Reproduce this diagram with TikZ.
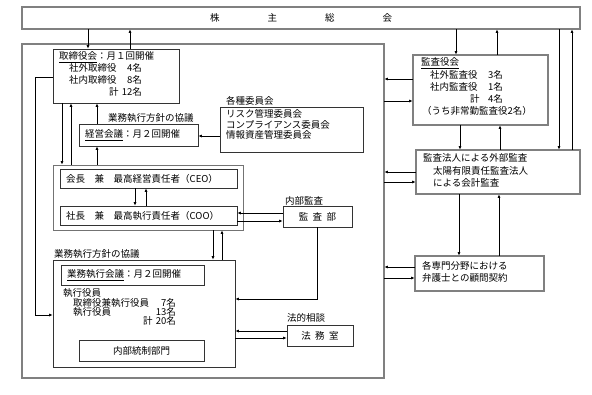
\documentclass[tikz,border=0pt]{standalone}
\usepackage{fontspec}
\setmainfont{Noto Sans CJK JP}
\usetikzlibrary{arrows.meta,fit}
\newcommand{\fs}{\fontsize{9.5}{11}\selectfont}
\begin{document}
\begin{tikzpicture}[x=1pt,y=-1pt,
  dbl/.style={draw=black!75, line width=0.7pt, double=black!50, double distance=1.2pt, inner sep=0pt},
  box/.style={draw=black!80, line width=0.6pt, inner sep=0pt},
  gbox/.style={draw=black!55, line width=0.7pt, inner sep=0pt},
  txt/.style={anchor=west, inner sep=0pt, font=\fs},
  num/.style={anchor=east, inner sep=0pt, font=\fs},
  ctr/.style={inner sep=0pt, font=\fs},
  arr/.style={-{Latex[length=3.5pt,width=3pt]}, line width=0.8pt}]
\fill[white] (0,0) rectangle (592,394);
\useasboundingbox (0,0) rectangle (592,394);

% boxes
\node[dbl, fit={(22,7)(580,29)}] (gm) {};
\node[ctr] (gmt) at (gm.center) {株\hspace{48pt}主\hspace{48pt}総\hspace{48pt}会};
\node[dbl, fit={(22,44)(384,378)}] (corp) {};
\node[box, fit={(53,49)(179,103)}] (board) {};
\node[box, fit={(79,124)(198,146)}] (mgmt) {};
\node[box, fit={(220,107)(363,152)}] (cmte) {};
\node[gbox, fit={(53,165)(243,230)}] (exec) {};
\node[box, fit={(60,169)(237,188)}] (ceo) {};
\node[box, fit={(60,206)(237,225)}] (coo) {};
\node[box, fit={(283,206)(352,227)}] (audit) {};
\node[box, fit={(53,260)(235,367)}] (ops) {};
\node[box, fit={(61,265)(204,285)}] (opsm) {};
\node[box, fit={(79,340)(204,361)}] (ic) {};
\node[box, fit={(287,325)(353,346)}] (legal) {};
\node[dbl, fit={(413,55)(548,125)}] (kansa) {};
\node[dbl, fit={(416,150)(580,194)}] (ext) {};
\node[dbl, fit={(415,256)(544,291)}] (law) {};

% texts
\node[txt] (bt1) at (59,57) {\underline{取締役会}：月１回開催};
\node[txt] (bt2) at (69,68) {社外取締役}; \node[num] (bn2) at (142,68) {4名};
\node[txt] (bt3) at (69,80) {社内取締役}; \node[num] (bn3) at (142,80) {8名};
\node[txt] (bt4) at (109,92) {計}; \node[num] (bn4) at (142,92) {12名};
\node[txt] (ml) at (108,118) {業務執行方針の協議};
\node[txt] (mt) at (85,135) {\underline{経営会議}：月２回開催};
\node[txt] (cl) at (226,101) {各種委員会};
\node[txt] (c1) at (226,114) {リスク管理委員会};
\node[txt] (c2) at (226,124.5) {コンプライアンス委員会};
\node[txt] (c3) at (226,135) {情報資産管理委員会};
\node[txt] (ceot) at (66,178.5) {会長　兼　最高経営責任者（CEO）};
\node[txt] (coot) at (66,215.5) {社長　兼　最高執行責任者（COO）};
\node[txt] (al) at (285,201) {内部監査};
\node[ctr] (at) at (audit.center) {監\hspace{4.5pt}査\hspace{4.5pt}部};
\node[txt] (ol) at (54,254) {業務執行方針の協議};
\node[txt] (omt) at (67,275) {\underline{業務執行会議}：月２回開催};
\node[txt] (o1) at (63,293) {執行役員};
\node[txt] (o2) at (73,303) {取締役兼執行役員}; \node[num] (on2) at (176,303) {7名};
\node[txt] (o3) at (73,312) {執行役員}; \node[num] (on3) at (176,312) {13名};
\node[txt] (o4) at (143,321) {計}; \node[num] (on4) at (176,321) {20名};
\node[ctr] (ict) at (ic.center) {内部統制部門};
\node[txt] (ll) at (287,318) {法的相談};
\node[ctr] (lt) at (legal.center) {法\hspace{4.5pt}務\hspace{4.5pt}室};
\node[txt] (k1) at (421,63) {\underline{監査役会}};
\node[txt] (k2) at (430,75) {社外監査役}; \node[num] (kn2) at (503,75) {3名};
\node[txt] (k3) at (430,87) {社内監査役}; \node[num] (kn3) at (503,87) {1名};
\node[txt] (k4) at (470,99) {計}; \node[num] (kn4) at (503,99) {4名};
\node[txt] (k5) at (422,111) {（うち非常勤監査役2名）};
\node[txt] (e1) at (423,158) {監査法人による外部監査};
\node[txt] (e2) at (433,171) {太陽有限責任監査法人};
\node[txt] (e3) at (433,183) {による会計監査};
\node[txt] (w1) at (422,266) {各専門分野における};
\node[txt] (w2) at (422,278) {弁護士との顧問契約};

% connectors
\draw[arr] (gm.south -| 88,0) -- (board.north -| 88,0);
\draw[arr] (board.north -| 130,0) -- (gm.south -| 130,0);
\draw[arr] (gm.south -| 456,0) -- (kansa.north -| 456,0);
\draw[arr] (kansa.north -| 497,0) -- (gm.south -| 497,0);
\draw[arr] (gm.south -| 559,0) -- (ext.north -| 559,0);
\draw[arr] (ext.north -| 572,0) -- (gm.south -| 572,0);
\draw[arr] (kansa.west |- 0,79) -- (corp.east |- 0,79);
\draw[arr] (corp.east |- 0,101) -- (kansa.west |- 0,101);
\draw[arr] (ext.west |- 0,172) -- (corp.east |- 0,172);
\draw[arr] (corp.east |- 0,182) -- (ext.west |- 0,182);
\draw[arr] (law.west |- 0,267) -- (corp.east |- 0,267);
\draw[arr] (corp.east |- 0,278) -- (law.west |- 0,278);
\draw[arr] (kansa.south -| 460,0) -- (ext.north -| 460,0);
\draw[arr] (ext.north -| 500,0) -- (kansa.south -| 500,0);
\draw[arr] (ext.south -| 459,0) -- (law.north -| 459,0);
\draw[arr] (law.north -| 499,0) -- (ext.south -| 499,0);
\draw[arr] (board.west |- 0,77) -- (35,77) -- (35,315) -- (ops.west |- 0,315);
\draw[arr] (board.south -| 62,0) -- (exec.north -| 62,0);
\draw[arr] (exec.north -| 71,0) -- (board.south -| 71,0);
\draw[arr] (mgmt.north -| 97,0) -- (board.south -| 97,0);
\draw[arr] (exec.north -| 97,0) -- (mgmt.south -| 97,0);
\draw[arr] (cmte.west |- 0,136) -- (mgmt.east |- 0,136);
\draw[arr] (ceo.south -| 135,0) -- (coo.north -| 135,0);
\draw[arr] (coo.north -| 146,0) -- (ceo.south -| 146,0);
\draw[arr] (audit.west |- 0,213) -- (coo.east |- 0,213);
\draw[arr] (coo.east |- 0,221) -- (audit.west |- 0,221);
\draw[arr] (exec.south -| 213,0) -- (ops.north -| 213,0);
\draw[arr] (ops.north -| 222,0) -- (exec.south -| 222,0);
\draw[arr] (audit.south -| 317,0) -- (317,299) -- (ops.east |- 0,299);
\draw[arr] (legal.west |- 0,331) -- (ops.east |- 0,331);
\draw[arr] (ops.east |- 0,338) -- (legal.west |- 0,338);
\end{tikzpicture}
\end{document}
